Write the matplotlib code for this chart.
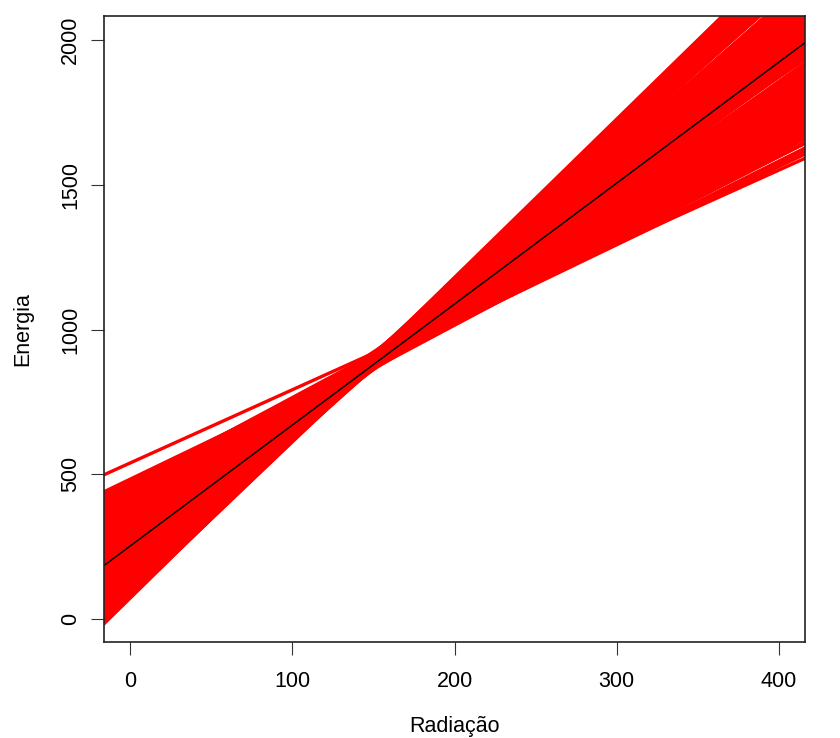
import matplotlib
matplotlib.use("Agg")
import matplotlib.pyplot as plt

plt.rcParams["font.family"] = ["Liberation Sans", "DejaVu Sans"]

# posterior draws of the regression line: Energia = intercept + slope * Radiacao
intercepts = [
    466, 436, 466, 440, 419, 461, 435, 418, 439, 403,
    412, 435, 391, 413, 431, 387, 394, 368, 401, 376,
    397, 360, 378, 393, 347, 361, 368, 342, 371, 342,
    321, 347, 362, 323, 332, 342, 305, 329, 311, 340,
    308, 289, 313, 319, 272, 296, 279, 300, 254, 278,
    259, 293, 263, 243, 267, 248, 269, 223, 247, 229,
    249, 214, 231, 250, 209, 224, 209, 190, 222, 203,
    184, 205, 213, 181, 163, 185, 195, 162, 168, 177,
    159, 143, 170, 154, 136, 165, 132, 143, 115, 142,
    126, 136, 105, 122, 105, 127, 105, 90, 107, 91,
    94, 78, 95, 79, 83, 76,
    470, 440, 465, 436, 407, 433, 405, 413, 389, 383,
    395, 363, 380, 347, 340, 375, 325, 338, 320, 298,
    333, 277, 305, 263, 294, 248, 270, 236, 225, 248,
    204, 252, 200, 220, 215, 183, 206, 165, 185, 152,
    181, 126, 155, 128, 138, 104, 133, 103, 103, 79, 97,
    355, 343, 421, 419, 386, 382, 382, 347, 471, 409,
    404, 365, 341, 442, 396, 372,
    251, 238, 319, 308, 357, 364, 275, 222, 200, 455, 447,
    237, 235, 258, 300, 328, 344,
    539, 483, 478, 470, 462, 466, 458, 86, 72,
]
slopes = [
    2.88, 2.91, 2.93, 2.96, 2.98, 3.01, 3.03, 3.06, 3.08, 3.11,
    3.13, 3.15, 3.18, 3.20, 3.23, 3.25, 3.28, 3.30, 3.32, 3.35,
    3.37, 3.40, 3.42, 3.45, 3.47, 3.49, 3.52, 3.54, 3.57, 3.59,
    3.62, 3.64, 3.66, 3.69, 3.71, 3.74, 3.76, 3.79, 3.81, 3.83,
    3.86, 3.88, 3.91, 3.93, 3.96, 3.98, 4.00, 4.03, 4.05, 4.08,
    4.10, 4.13, 4.15, 4.17, 4.20, 4.22, 4.25, 4.27, 4.30, 4.32,
    4.34, 4.37, 4.39, 4.42, 4.44, 4.47, 4.49, 4.51, 4.54, 4.56,
    4.59, 4.61, 4.64, 4.66, 4.68, 4.71, 4.73, 4.76, 4.78, 4.81,
    4.83, 4.85, 4.88, 4.90, 4.93, 4.95, 4.98, 5.00, 5.02, 5.05,
    5.07, 5.10, 5.12, 5.15, 5.17, 5.19, 5.22, 5.24, 5.27, 5.29,
    5.32, 5.34, 5.36, 5.39, 5.41, 5.43,
    2.90, 2.95, 3.00, 3.05, 3.10, 3.15, 3.20, 3.25, 3.30, 3.35,
    3.40, 3.45, 3.50, 3.55, 3.60, 3.65, 3.70, 3.75, 3.80, 3.85,
    3.90, 3.95, 4.00, 4.05, 4.10, 4.15, 4.20, 4.25, 4.30, 4.35,
    4.40, 4.45, 4.50, 4.55, 4.60, 4.65, 4.70, 4.75, 4.80, 4.85,
    4.90, 4.95, 5.00, 5.05, 5.10, 5.15, 5.20, 5.25, 5.30, 5.35, 5.40,
    3.60, 3.63, 3.16, 3.14, 3.38, 3.36, 3.44, 3.58, 2.86, 3.22,
    3.27, 3.50, 3.70, 3.05, 3.33, 3.48,
    4.29, 4.31, 3.83, 3.85, 3.57, 3.55, 4.10, 4.45, 4.60, 2.92, 2.94,
    4.35, 4.40, 4.23, 3.95, 3.75, 3.68,
    2.53, 2.70, 2.74, 2.76, 2.80, 2.83, 2.85, 5.47, 5.50,
]
mean_intercept = 252
mean_slope = 4.18

xticks = [0, 100, 200, 300, 400]
yticks = [0, 500, 1000, 1500, 2000]

fig = plt.figure(figsize=(8.4, 7.38), dpi=100)
ax = fig.add_axes([104 / 840, 1 - 642 / 738, 701 / 840, 626 / 738])

for a, b in zip(intercepts, slopes):
    ax.axline((0, a), slope=b, color="#ff0000", lw=2.4)
ax.axline((0, mean_intercept), slope=mean_slope, color="black", lw=1.1)

ax.set_xlim(-16, 416)
ax.set_ylim(-79, 2083)
ax.set_xticks(xticks)
ax.set_yticks(yticks)
ax.tick_params(direction="out", length=9.5, width=0.8, labelsize=15.5, color="#333333")
ax.tick_params(axis="x", pad=11.5)
ax.tick_params(axis="y", pad=7)
plt.setp(ax.get_yticklabels(), rotation=90, va="center")
for s in ax.spines.values():
    s.set_linewidth(1.2)
    s.set_color("#222222")

ax.set_xlabel("Radiação", fontsize=15.5, labelpad=17.5)
ax.set_ylabel("Energia", fontsize=15.5, labelpad=19.5)

fig.savefig("out.png", dpi=100)
plt.close(fig)
